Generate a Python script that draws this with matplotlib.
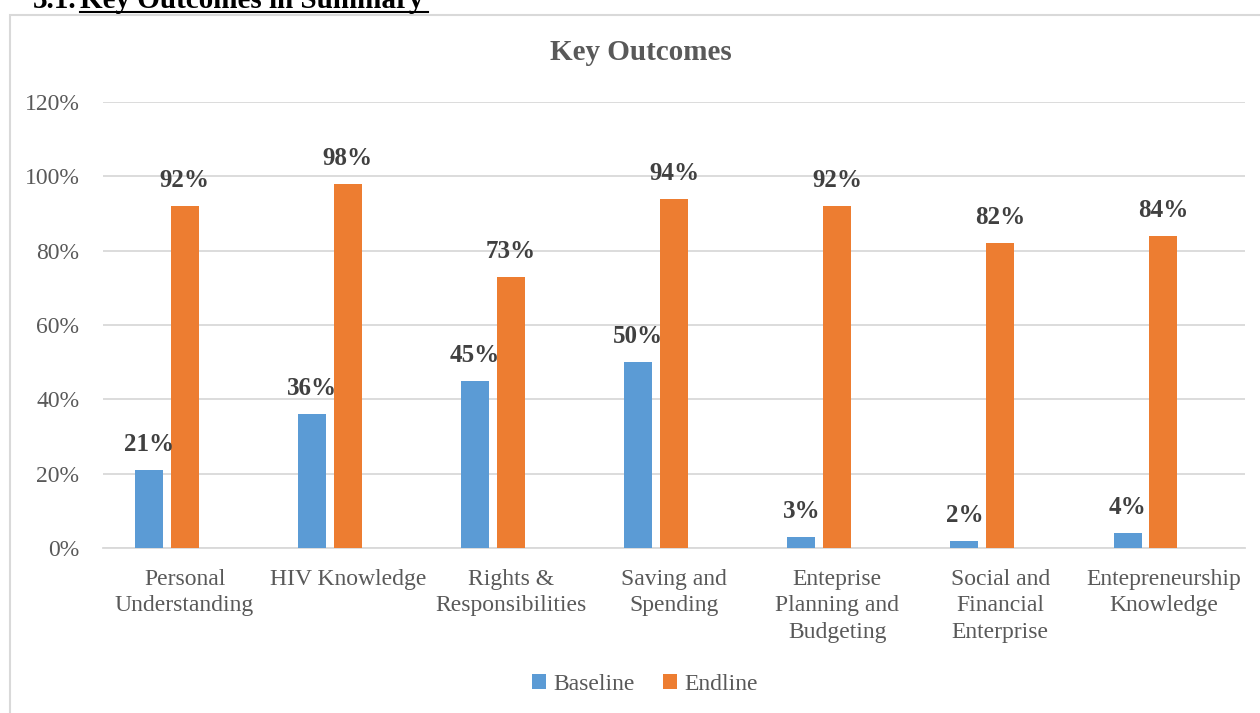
import matplotlib.pyplot as plt
import numpy as np
from matplotlib.lines import Line2D
from matplotlib.patches import Rectangle

categories = [
    "Personal\nUnderstanding",
    "HIV Knowledge",
    "Rights &\nResponsibilities",
    "Saving and\nSpending",
    "Enteprise\nPlanning and\nBudgeting",
    "Social and\nFinancial\nEnterprise",
    "Entepreneurship\nKnowledge",
]
baseline = [21, 36, 45, 50, 3, 2, 4]
endline = [92, 98, 73, 94, 92, 82, 84]

BLUE = "#5b9bd5"
ORANGE = "#ed7d31"
GREY_TEXT = "#595959"
GRID = "#d9d9d9"

plt.rcParams["font.family"] = ["Liberation Serif", "DejaVu Serif"]

W, H = 1260, 713
fig = plt.figure(figsize=(W / 100, H / 100), dpi=100)
ax = fig.add_axes([103 / W, 1 - 548 / H, (1245 - 103) / W, (548 - 102) / H])

x = np.arange(len(categories))
width = 0.172
step = 0.22
b1 = ax.bar(x - step, baseline, width, color=BLUE, zorder=3)
b2 = ax.bar(x, endline, width, color=ORANGE, zorder=3)

for bars, vals in ((b1, baseline), (b2, endline)):
    for rect, v in zip(bars, vals):
        ax.annotate(f"{v}%", (rect.get_x() + rect.get_width() / 2, v),
                    xytext=(0, 10), textcoords="offset points",
                    ha="center", va="bottom", fontsize=18,
                    fontweight="bold", color="#404040")

ax.set_xlim(-0.5, len(categories) - 0.5)
ax.set_ylim(0, 120)
ax.set_yticks(range(0, 121, 20))
ax.set_yticklabels([f"{t}%" for t in range(0, 121, 20)])
ax.set_xticks(x)
ax.set_xticklabels(categories, linespacing=1.35)
ax.tick_params(axis="both", length=0, labelsize=17, colors=GREY_TEXT)
ax.tick_params(axis="y", pad=17)
ax.tick_params(axis="x", pad=15)
ax.grid(axis="y", color=GRID, linewidth=1.3, zorder=0)
for side in ("top", "right", "left"):
    ax.spines[side].set_visible(False)
ax.spines["bottom"].set_color(GRID)
ax.spines["bottom"].set_linewidth(1.3)

fig.text(641 / W, 1 - 52 / H, "Key Outcomes", ha="center", va="center",
         fontsize=21, fontweight="bold", color=GREY_TEXT)

fig.legend([b1, b2], ["Baseline", "Endline"], loc="center",
           bbox_to_anchor=(645 / W, 1 - 684 / H), ncol=2, frameon=False,
           fontsize=17, labelcolor=GREY_TEXT, handlelength=0.6,
           handleheight=0.6, handletextpad=0.3, columnspacing=1.2)

# chart frame, running off the right and bottom edges
fig.patches.append(Rectangle((9.5 / W, -0.1), 1.2, 1 - 15 / H + 0.1,
                             transform=fig.transFigure, fill=False,
                             edgecolor=GRID, linewidth=1.5))

# section heading above the chart
fig.text(33 / W, 1 - 8 / H, "3.1.", ha="left", va="baseline",
         fontsize=21, fontweight="bold", color="black")
fig.text(80 / W, 1 - 8 / H, "Key Outcomes in Summary", ha="left",
         va="baseline", fontsize=21, fontweight="bold", color="black")
fig.lines.append(Line2D([80 / W, 428 / W], [1 - 11.5 / H, 1 - 11.5 / H],
                        transform=fig.transFigure, color="black",
                        linewidth=1.5))

fig.savefig("out.png", dpi=100)
